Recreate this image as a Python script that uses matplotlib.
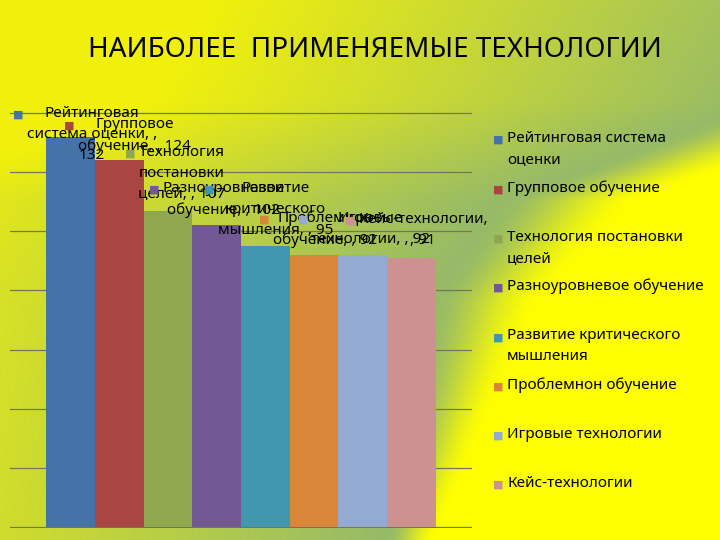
import textwrap

import numpy as np
import matplotlib
matplotlib.use('Agg')
import matplotlib.pyplot as plt

plt.rcParams['font.family'] = ['Noto Sans', 'DejaVu Sans']

# ---- data ----
title = 'НАИБОЛЕЕ  ПРИМЕНЯЕМЫЕ ТЕХНОЛОГИИ'
series_names = [
    'Рейтинговая система оценки',
    'Групповое обучение',
    'Технология постановки целей',
    'Разноуровневое обучение',
    'Развитие критического мышления',
    'Проблемнон обучение',
    'Игровые технологии',
    'Кейс-технологии',
]
values = [132, 124, 107, 102, 95, 92, 92, 91]

# ---- styling ----
colors = ['#4573A7', '#A94543', '#8FA84F', '#735993',
          '#4197B0', '#D9853A', '#93AAD3', '#CD918F']
label_wrap = [17, 17, 16, 16, 14, 14, 16, 16]
# where each data label sits, in pixels from the top of its bar
label_shift = [(21, 2), (15, 25), (14, 37), (7, 26),
               (10, 37), (11, 26), (8, 26), (12, 28)]

W, H = 720, 540
fig = plt.figure(figsize=(W / 100, H / 100), dpi=100)

# background: yellow with a curved green band from the top right corner
bg = fig.add_axes([0, 0, 1, 1])
yy, xx = np.mgrid[0:H, 0:W].astype(float)
band_x = np.interp(yy, [0, 100, 200, 300, 540], [820, 760, 500, 430, 385])
h = xx - band_x
right_w = 190 - 140 * yy / H
green = np.array([150, 186, 104]) / 255
yel_l = np.array([240, 240, 12]) / 255
yel_r = np.array([255, 255, 0]) / 255
tl = np.clip(-h / 600, 0, 1)[..., None]
tr = np.clip(h / right_w, 0, 1)[..., None]
tr = tr * tr * (3 - 2 * tr)
img = np.where(h[..., None] < 0,
               green * (1 - tl) + yel_l * tl,
               green * (1 - tr) + yel_r * tr)
bg.imshow(img, aspect='auto', extent=(0, 1, 0, 1))
bg.axis('off')

# plot area
ppu = 414 / 140
top_px, bot_px = 113 - 0.5 * ppu, 527 + 0.5 * ppu
ax = fig.add_axes([10 / W, 1 - bot_px / H, 462 / W, (bot_px - top_px) / H])
ax.patch.set_alpha(0)

n = len(values)
w = 1 / (n + 1.5)
xs = (np.arange(n) - (n - 1) / 2) * w
ax.bar(xs, values, width=w, color=colors, zorder=2)

ax.set_xlim(-0.5, 0.5)
ax.set_ylim(-0.5, 140.5)
ax.set_yticks(np.arange(0, 141, 20))
ax.set_xticks([])
ax.tick_params(left=False, labelleft=False)
ax.grid(axis='y', color='#75755a', lw=0.9)
ax.set_axisbelow(True)
for s in ax.spines.values():
    s.set_visible(False)


def add_key(where, txt, color, dx, dy):
    # small coloured square at the top-left corner of a text block
    where.annotate('■', xy=(0, 1), xycoords=txt, xytext=(dx, dy),
                   textcoords='offset pixels', ha='right', va='top',
                   color=color, fontsize=8, family='DejaVu Sans', zorder=6)


# data labels: "name, , value" with legend key
for i, (name, v) in enumerate(zip(series_names, values)):
    lab = textwrap.fill(f'{name}, , {v}', label_wrap[i])
    t = ax.annotate(lab, xy=(xs[i], v), xytext=label_shift[i],
                    textcoords='offset pixels', ha='center', va='center',
                    fontsize=11, linespacing=1.55, zorder=5)
    add_key(ax, t, colors[i], -3, -4)

# legend on the right, entries evenly spaced
for i, name in enumerate(series_names):
    yc = 138 + i * 49.3
    t = fig.text(507 / W, 1 - (yc - 7) / H, textwrap.fill(name, 23),
                 ha='left', va='top', fontsize=11, linespacing=1.55)
    add_key(ax, t, colors[i], -4, -4)

fig.text(375 / W, 1 - 50 / H, title, ha='center', va='center', fontsize=20)

fig.savefig('out.png', dpi=100)
